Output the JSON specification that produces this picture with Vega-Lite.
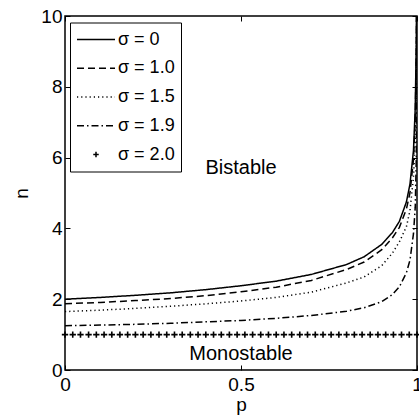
{
  "$schema": "https://vega.github.io/schema/vega-lite/v6.json",
  "width": 352,
  "height": 354,
  "autosize": "none",
  "padding": {"left": 65, "top": 16, "right": 2, "bottom": 46},
  "background": "white",
  "config": {
    "view": {"stroke": "black", "strokeWidth": 1.5},
    "font": "Liberation Sans",
    "axis": {
      "grid": false,
      "domain": false,
      "tickColor": "black",
      "tickWidth": 1,
      "tickSize": -5,
      "labelFont": "Liberation Sans",
      "labelFontSize": 19,
      "labelColor": "black",
      "labelFlush": false,
      "labelOverlap": false,
      "titleFont": "Liberation Sans",
      "titleFontSize": 19,
      "titleFontWeight": "normal",
      "titleColor": "black"
    }
  },
  "datasets": {
    "curves": [
      {"p": 0, "n": 2.00, "s": "σ = 0"},
      {"p": 0.1, "n": 2.05, "s": "σ = 0"},
      {"p": 0.2, "n": 2.11, "s": "σ = 0"},
      {"p": 0.3, "n": 2.18, "s": "σ = 0"},
      {"p": 0.4, "n": 2.27, "s": "σ = 0"},
      {"p": 0.5, "n": 2.38, "s": "σ = 0"},
      {"p": 0.6, "n": 2.51, "s": "σ = 0"},
      {"p": 0.7, "n": 2.70, "s": "σ = 0"},
      {"p": 0.8, "n": 2.98, "s": "σ = 0"},
      {"p": 0.85, "n": 3.20, "s": "σ = 0"},
      {"p": 0.9, "n": 3.55, "s": "σ = 0"},
      {"p": 0.93, "n": 3.88, "s": "σ = 0"},
      {"p": 0.95, "n": 4.20, "s": "σ = 0"},
      {"p": 0.97, "n": 4.75, "s": "σ = 0"},
      {"p": 0.98, "n": 5.25, "s": "σ = 0"},
      {"p": 0.99, "n": 6.20, "s": "σ = 0"},
      {"p": 0.995, "n": 7.40, "s": "σ = 0"},
      {"p": 0.998, "n": 9.30, "s": "σ = 0"},
      {"p": 0.999, "n": 11.0, "s": "σ = 0"},
      {"p": 0, "n": 1.87, "s": "σ = 1.0"},
      {"p": 0.1, "n": 1.91, "s": "σ = 1.0"},
      {"p": 0.2, "n": 1.96, "s": "σ = 1.0"},
      {"p": 0.3, "n": 2.02, "s": "σ = 1.0"},
      {"p": 0.4, "n": 2.10, "s": "σ = 1.0"},
      {"p": 0.5, "n": 2.21, "s": "σ = 1.0"},
      {"p": 0.6, "n": 2.34, "s": "σ = 1.0"},
      {"p": 0.7, "n": 2.53, "s": "σ = 1.0"},
      {"p": 0.8, "n": 2.84, "s": "σ = 1.0"},
      {"p": 0.85, "n": 3.05, "s": "σ = 1.0"},
      {"p": 0.9, "n": 3.40, "s": "σ = 1.0"},
      {"p": 0.93, "n": 3.73, "s": "σ = 1.0"},
      {"p": 0.95, "n": 4.03, "s": "σ = 1.0"},
      {"p": 0.97, "n": 4.55, "s": "σ = 1.0"},
      {"p": 0.98, "n": 5.00, "s": "σ = 1.0"},
      {"p": 0.99, "n": 5.95, "s": "σ = 1.0"},
      {"p": 0.995, "n": 7.10, "s": "σ = 1.0"},
      {"p": 0.998, "n": 9.00, "s": "σ = 1.0"},
      {"p": 0.999, "n": 10.7, "s": "σ = 1.0"},
      {"p": 0, "n": 1.65, "s": "σ = 1.5"},
      {"p": 0.1, "n": 1.69, "s": "σ = 1.5"},
      {"p": 0.2, "n": 1.74, "s": "σ = 1.5"},
      {"p": 0.3, "n": 1.80, "s": "σ = 1.5"},
      {"p": 0.4, "n": 1.87, "s": "σ = 1.5"},
      {"p": 0.5, "n": 1.95, "s": "σ = 1.5"},
      {"p": 0.6, "n": 2.05, "s": "σ = 1.5"},
      {"p": 0.7, "n": 2.20, "s": "σ = 1.5"},
      {"p": 0.8, "n": 2.46, "s": "σ = 1.5"},
      {"p": 0.85, "n": 2.63, "s": "σ = 1.5"},
      {"p": 0.9, "n": 2.95, "s": "σ = 1.5"},
      {"p": 0.93, "n": 3.30, "s": "σ = 1.5"},
      {"p": 0.95, "n": 3.62, "s": "σ = 1.5"},
      {"p": 0.97, "n": 4.05, "s": "σ = 1.5"},
      {"p": 0.98, "n": 4.50, "s": "σ = 1.5"},
      {"p": 0.99, "n": 5.45, "s": "σ = 1.5"},
      {"p": 0.995, "n": 6.50, "s": "σ = 1.5"},
      {"p": 0.998, "n": 8.30, "s": "σ = 1.5"},
      {"p": 0.999, "n": 9.90, "s": "σ = 1.5"},
      {"p": 0.9995, "n": 11.8, "s": "σ = 1.5"},
      {"p": 0, "n": 1.25, "s": "σ = 1.9"},
      {"p": 0.1, "n": 1.27, "s": "σ = 1.9"},
      {"p": 0.2, "n": 1.29, "s": "σ = 1.9"},
      {"p": 0.3, "n": 1.32, "s": "σ = 1.9"},
      {"p": 0.4, "n": 1.36, "s": "σ = 1.9"},
      {"p": 0.5, "n": 1.40, "s": "σ = 1.9"},
      {"p": 0.6, "n": 1.46, "s": "σ = 1.9"},
      {"p": 0.7, "n": 1.54, "s": "σ = 1.9"},
      {"p": 0.8, "n": 1.66, "s": "σ = 1.9"},
      {"p": 0.85, "n": 1.76, "s": "σ = 1.9"},
      {"p": 0.9, "n": 1.93, "s": "σ = 1.9"},
      {"p": 0.93, "n": 2.13, "s": "σ = 1.9"},
      {"p": 0.95, "n": 2.35, "s": "σ = 1.9"},
      {"p": 0.97, "n": 2.75, "s": "σ = 1.9"},
      {"p": 0.98, "n": 3.10, "s": "σ = 1.9"},
      {"p": 0.99, "n": 3.85, "s": "σ = 1.9"},
      {"p": 0.995, "n": 4.60, "s": "σ = 1.9"},
      {"p": 0.998, "n": 6.00, "s": "σ = 1.9"},
      {"p": 0.999, "n": 7.50, "s": "σ = 1.9"},
      {"p": 0.9995, "n": 9.50, "s": "σ = 1.9"},
      {"p": 0.9998, "n": 12.0, "s": "σ = 1.9"}
    ],
    "plus": [
      {"p": 0, "n": 1}, {"p": 0.022, "n": 1}, {"p": 0.044, "n": 1}, {"p": 0.067, "n": 1},
      {"p": 0.089, "n": 1}, {"p": 0.111, "n": 1}, {"p": 0.133, "n": 1}, {"p": 0.156, "n": 1},
      {"p": 0.178, "n": 1}, {"p": 0.2, "n": 1}, {"p": 0.222, "n": 1}, {"p": 0.244, "n": 1},
      {"p": 0.267, "n": 1}, {"p": 0.289, "n": 1}, {"p": 0.311, "n": 1}, {"p": 0.333, "n": 1},
      {"p": 0.356, "n": 1}, {"p": 0.378, "n": 1}, {"p": 0.4, "n": 1}, {"p": 0.422, "n": 1},
      {"p": 0.444, "n": 1}, {"p": 0.467, "n": 1}, {"p": 0.489, "n": 1}, {"p": 0.511, "n": 1},
      {"p": 0.533, "n": 1}, {"p": 0.556, "n": 1}, {"p": 0.578, "n": 1}, {"p": 0.6, "n": 1},
      {"p": 0.622, "n": 1}, {"p": 0.644, "n": 1}, {"p": 0.667, "n": 1}, {"p": 0.689, "n": 1},
      {"p": 0.711, "n": 1}, {"p": 0.733, "n": 1}, {"p": 0.756, "n": 1}, {"p": 0.778, "n": 1},
      {"p": 0.8, "n": 1}, {"p": 0.822, "n": 1}, {"p": 0.844, "n": 1}, {"p": 0.867, "n": 1},
      {"p": 0.889, "n": 1}, {"p": 0.911, "n": 1}, {"p": 0.933, "n": 1}, {"p": 0.956, "n": 1},
      {"p": 0.978, "n": 1}, {"p": 1, "n": 1}
    ],
    "notes": [
      {"p": 0.5, "n": 5.7, "t": "Bistable"},
      {"p": 0.5, "n": 0.45, "t": "Monostable"}
    ]
  },
  "resolve": {"axis": {"x": "independent", "y": "independent"}},
  "layer": [
    {
      "data": {"name": "curves"},
      "mark": {"type": "line", "clip": true, "stroke": "black", "strokeWidth": 1.5},
      "encoding": {
        "x": {"field": "p", "type": "quantitative",
              "scale": {"domain": [0, 1], "nice": false, "zero": false},
              "axis": {"orient": "bottom", "values": [0, 0.5, 1], "format": "~g", "title": "p",
                       "labelPadding": 10, "titleBaseline": "alphabetic", "titleY": 40, "titleX": 176}},
        "y": {"field": "n", "type": "quantitative",
              "scale": {"domain": [0, 10], "nice": false},
              "axis": {"orient": "left", "values": [0, 2, 4, 6, 8, 10], "format": "d", "title": "n",
                       "labelPadding": 8, "titleBaseline": "alphabetic", "titleX": -38, "titleY": 177}},
        "order": {"field": "p", "type": "quantitative"},
        "strokeDash": {
          "field": "s", "type": "nominal",
          "scale": {
            "domain": ["σ = 0", "σ = 1.0", "σ = 1.5", "σ = 1.9", "σ = 2.0"],
            "range": [[1, 0], [7, 4], [1.2, 3], [7, 3, 1.5, 3], [1, 0]]
          },
          "legend": {
            "orient": "none",
            "legendX": 5,
            "legendY": 6.5,
            "title": null,
            "strokeColor": "black",
            "fillColor": "white",
            "padding": 6,
            "symbolType": "stroke",
            "symbolSize": 100,
            "symbolOffset": 0,
            "symbolStrokeColor": "black",
            "symbolStrokeWidth": 1.5,
            "labelFont": "Liberation Sans",
            "labelFontSize": 18,
            "labelColor": "black",
            "labelOffset": 2,
            "clipHeight": 22,
            "rowPadding": 6.75,
            "encode": {
              "symbols": {
                "update": {
                  "shape": {"signal": "datum.value === 'σ = 2.0' ? 'M-1,0H1M0,-1V1' : 'stroke'"},
                  "size": {"signal": "datum.value === 'σ = 2.0' ? 30 : 1444"}
                }
              }
            }
          }
        }
      }
    },
    {
      "data": {"name": "plus"},
      "mark": {"type": "point", "shape": "M-1,0H1M0,-1V1", "size": 40, "filled": false,
               "stroke": "black", "strokeWidth": 1.6, "opacity": 1},
      "encoding": {
        "x": {"field": "p", "type": "quantitative", "axis": null},
        "y": {"field": "n", "type": "quantitative", "axis": null}
      }
    },
    {
      "data": {"name": "notes"},
      "mark": {"type": "text", "font": "Liberation Sans", "fontSize": 20, "align": "center",
               "baseline": "middle", "color": "black"},
      "encoding": {
        "x": {"field": "p", "type": "quantitative",
              "axis": {"orient": "top", "values": [0, 0.5, 1], "labels": false, "title": null}},
        "y": {"field": "n", "type": "quantitative",
              "axis": {"orient": "right", "values": [0, 2, 4, 6, 8, 10], "labels": false, "title": null}},
        "text": {"field": "t", "type": "nominal"}
      }
    }
  ]
}
